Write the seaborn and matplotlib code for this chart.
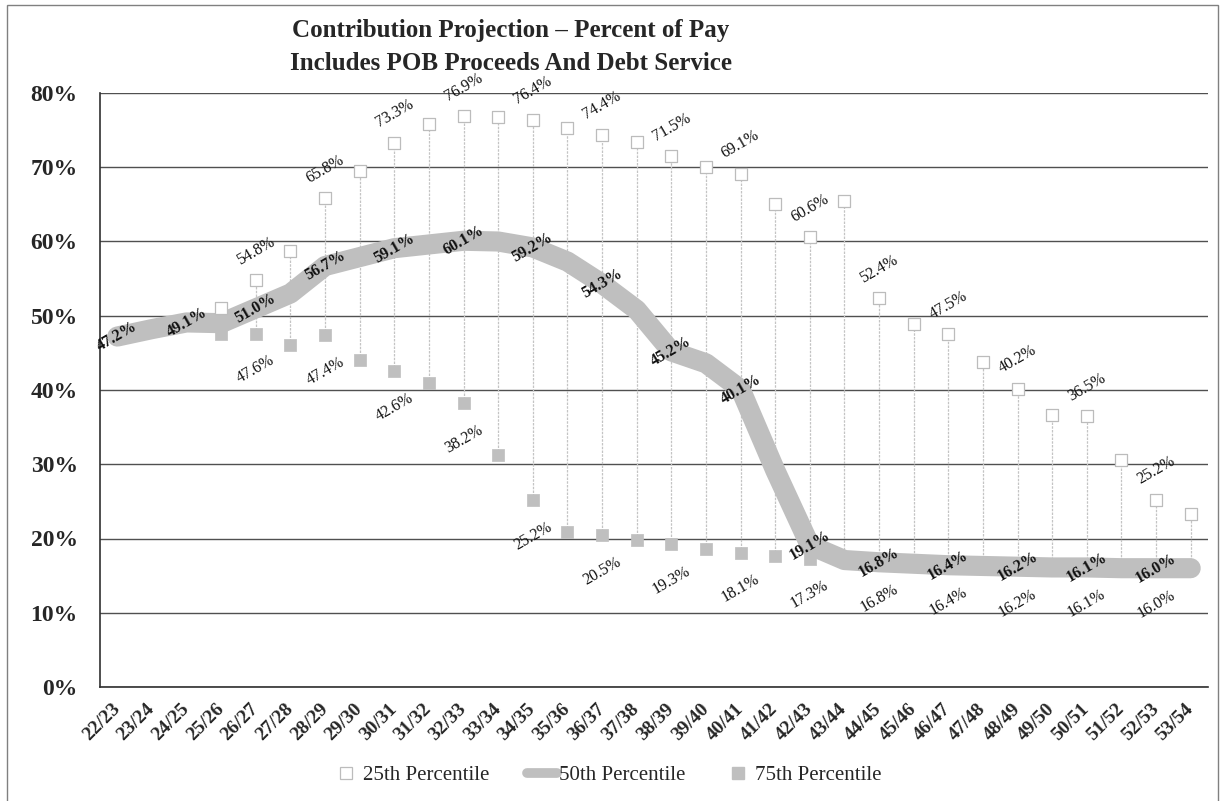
import numpy as np
import matplotlib
matplotlib.use("Agg")
import matplotlib.pyplot as plt
from matplotlib.lines import Line2D
from matplotlib.patches import Rectangle
import seaborn as sns

# Fiscal years on the horizontal axis
years = ["22/23", "23/24", "24/25", "25/26", "26/27", "27/28", "28/29", "29/30",
         "30/31", "31/32", "32/33", "33/34", "34/35", "35/36", "36/37", "37/38",
         "38/39", "39/40", "40/41", "41/42", "42/43", "43/44", "44/45", "45/46",
         "46/47", "47/48", "48/49", "49/50", "50/51", "51/52", "52/53", "53/54"]

nan = np.nan
# Contribution rate, percent of pay
pct25 = [nan, nan, nan, 51.0, 54.8, 58.7, 65.8, 69.5, 73.3, 75.8, 76.9, 76.8,
         76.4, 75.3, 74.4, 73.4, 71.5, 70.0, 69.1, 65.0, 60.6, 65.4, 52.4, 48.9,
         47.5, 43.8, 40.2, 36.6, 36.5, 30.6, 25.2, 23.3]
pct50 = [47.2, 48.2, 49.1, 49.0, 51.0, 53.0, 56.7, 57.9, 59.1, 59.6, 60.1, 60.0,
         59.2, 57.3, 54.3, 50.8, 45.2, 43.6, 40.1, 29.2, 19.1, 17.1, 16.8, 16.6,
         16.4, 16.3, 16.2, 16.1, 16.1, 16.0, 16.0, 16.0]
pct75 = [nan, nan, nan, 47.5, 47.6, 46.0, 47.4, 44.0, 42.6, 40.9, 38.2, 31.2,
         25.2, 20.9, 20.5, 19.8, 19.3, 18.6, 18.1, 17.7, 17.3, 17.0, 16.8, 16.6,
         16.4, 16.3, 16.2, 16.1, 16.1, 16.0, 16.0, 16.0]

title_lines = ["Contribution Projection \u2013 Percent of Pay",
               "Includes POB Proceeds And Debt Service"]
series_names = ["25th Percentile", "50th Percentile", "75th Percentile"]

sns.set_style("white")
plt.rcParams["font.family"] = ["Liberation Serif", "DejaVu Serif"]

LINE_GREY = "#bfbfbf"
EDGE_GREY = "#bcbcbc"

fig = plt.figure(figsize=(12.24, 8.01), dpi=100)
ax = fig.add_axes([100 / 1224, 1 - 687 / 801, 1108 / 1224, (687 - 93) / 801])

xpos = np.arange(len(years))
p25 = np.array(pct25, dtype=float)
p50 = np.array(pct50, dtype=float)
p75 = np.array(pct75, dtype=float)

# high-low connectors between the upper and lower percentile
ax.vlines(xpos, p75, p25, colors="#c4c4c4", linewidth=0.9,
          linestyles=(0, (2, 1)), zorder=1)

# median path
sns.lineplot(x=xpos, y=p50, ax=ax, color=LINE_GREY, linewidth=14.5,
             solid_capstyle="round", solid_joinstyle="round", zorder=2,
             legend=False)

# percentile markers
sns.scatterplot(x=xpos, y=p75, ax=ax, marker="s", s=85, color=LINE_GREY,
                edgecolor=LINE_GREY, linewidth=0.5, zorder=3, legend=False)
sns.scatterplot(x=xpos, y=p25, ax=ax, marker="s", s=85, color="white",
                edgecolor=EDGE_GREY, linewidth=0.9, zorder=3, legend=False)

# value labels on every second year
lbl_kw = dict(rotation=30, rotation_mode="anchor", ha="center", va="center",
              fontsize=11.5, color="#111111", textcoords="offset points",
              zorder=5)
for i in range(0, len(years), 2):
    if not np.isnan(p25[i]):
        ax.annotate(f"{p25[i]:.1f}%", (xpos[i], p25[i]), xytext=(0, 21), **lbl_kw)
    if not np.isnan(p75[i]):
        ax.annotate(f"{p75[i]:.1f}%", (xpos[i], p75[i]), xytext=(0, -26), **lbl_kw)
    ax.annotate(f"{p50[i]:.1f}%", (xpos[i], p50[i]), xytext=(0, 0),
                fontweight="bold", **lbl_kw)

# axes
ax.set_xlim(-0.5, len(years) - 0.5)
ax.set_ylim(0, 80)
ax.set_yticks(np.arange(0, 81, 10))
ax.set_yticklabels([f"{v}%" for v in range(0, 81, 10)], fontsize=17,
                   fontweight="bold")
ax.tick_params(axis="y", length=0, pad=16)
ax.yaxis.grid(True, color="#505050", linewidth=1.0)
ax.set_axisbelow(True)

ax.set_xticks(np.arange(-0.5, len(years), 1.0))
ax.set_xticklabels([])
ax.tick_params(axis="x", which="major", length=7, width=1, color="#404040",
               direction="out")
ax.set_xticks(xpos, minor=True)
ax.set_xticklabels(years, minor=True, rotation=45, rotation_mode="anchor",
                   ha="right", va="center", fontsize=14, fontweight="bold")
ax.tick_params(axis="x", which="minor", length=0, pad=14)
ax.set_xlabel("")
ax.set_ylabel("")

for side in ("top", "right"):
    ax.spines[side].set_visible(False)
for side in ("left", "bottom"):
    ax.spines[side].set_color("#303030")
    ax.spines[side].set_linewidth(1.2)

# two-line title
for line, ypix in zip(title_lines, (31, 64)):
    fig.text(511 / 1224, 1 - ypix / 801, line, ha="center", va="center",
             fontsize=18, fontweight="bold")

# legend
handles = [
    Line2D([], [], linestyle="none", marker="s", markersize=8,
           markerfacecolor="white", markeredgecolor=EDGE_GREY,
           markeredgewidth=0.9),
    Line2D([], [], color=LINE_GREY, linewidth=7, solid_capstyle="round"),
    Line2D([], [], linestyle="none", marker="s", markersize=8,
           markerfacecolor=LINE_GREY, markeredgecolor=LINE_GREY),
]
fig.legend(handles, series_names, loc="center", ncol=3, frameon=False,
           bbox_to_anchor=(606 / 1224, 1 - 775 / 801), fontsize=15,
           handlelength=1.45, columnspacing=1.8, handletextpad=0.1)

# chart border
fig.patches.append(Rectangle((7 / 1224, -0.01), 1211 / 1224, 1 - 5 / 801 + 0.01,
                             transform=fig.transFigure, fill=False,
                             edgecolor="#808080", linewidth=1.0))

fig.savefig("out.png", dpi=100)
